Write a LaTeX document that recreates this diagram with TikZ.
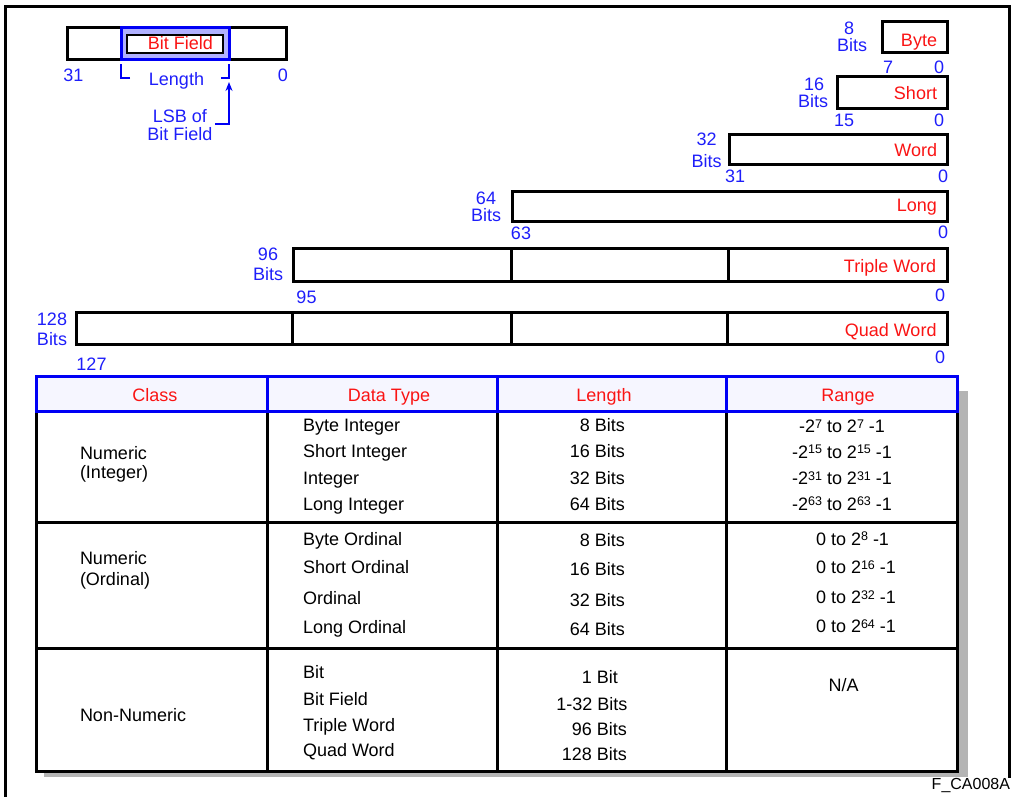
\documentclass[tikz,border=0pt]{standalone}
\usepackage{fontspec}
\setmainfont{Liberation Sans}
\usetikzlibrary{arrows.meta}
\definecolor{tblue}{RGB}{30,30,250}
\definecolor{lblue}{RGB}{0,0,245}
\definecolor{tred}{RGB}{250,20,20}
\definecolor{hfill}{RGB}{176,176,255}
\definecolor{hdrfill}{RGB}{246,246,255}
\definecolor{shadowgray}{RGB}{180,180,180}
\newcommand{\sups}[1]{\raisebox{4.5pt}{\fontsize{12.5}{12.5}\selectfont #1}}
\begin{document}
\begin{tikzpicture}[x=1pt,y=-1pt,
  every node/.style={inner sep=0pt, outer sep=0pt},
  lb/.style={text=tblue, font=\fontsize{18}{18}\selectfont},
  rd/.style={text=tred, font=\fontsize{18}{18}\selectfont},
  tx/.style={text=black, font=\fontsize{18}{18}\selectfont},
  regbox/.style={draw=black, line width=3pt, fill=white},
  bline/.style={draw=black, line width=3pt},
  hline/.style={draw=lblue, line width=3pt},
  brk/.style={draw=lblue, line width=2pt},
  lsbarrow/.style={draw=lblue, line width=2pt, -{Stealth[length=9pt,width=7pt]}}
]
\useasboundingbox (0,0) rectangle (1011,797);
% outer frame
\draw[bline] (5,797) -- (5,7) -- (1009,7) -- (1009,778);

% ---------- Bit field ----------
\draw[regbox] (67,28) rectangle (286,60);
\draw[draw=lblue, line width=3pt, fill=hfill] (121,28) rectangle (229,60);
\draw[draw=black, line width=2pt, fill=white] (127,35) rectangle (223,53);
\node[rd, anchor=base east] (bftxt) at (213,50) {Bit Field};
\node[lb, anchor=base] (bf31) at (73.5,81.5) {31};
\node[lb, anchor=base] (bf0) at (283,81.5) {0};
\node[lb, anchor=base] (bflen) at (176.5,86) {Length};
\draw[brk] (130,78) -- (121,78) -- (121,64);
\draw[brk] (221,78) -- (229,78) -- (229,64);
\node[lb, anchor=base] (lsb1) at (180,122.5) {LSB of};
\node[lb, anchor=base] (lsb2) at (180,140) {Bit Field};
\coordinate (arrstart) at (215,124);
\coordinate (arrcorner) at (229,124);
\coordinate (arrtip) at (229,82);
\draw[lsbarrow] (arrstart) -- (arrcorner) -- (arrtip);

% ---------- Byte ----------
\draw[regbox] (882,22) rectangle (947,53);
\node[lb, anchor=base] (b8a) at (849,34.5) {8};
\node[lb, anchor=base] (b8b) at (852,51.5) {Bits};
\node[rd, anchor=base east] (bytetxt) at (937,46.5) {Byte};
\node[lb, anchor=base] (b7) at (888,74) {7};
\node[lb, anchor=base] (b0) at (939,74) {0};

% ---------- Short ----------
\draw[regbox] (837,77) rectangle (947,109);
\node[lb, anchor=base] (s16a) at (814,90.5) {16};
\node[lb, anchor=base] (s16b) at (813,108) {Bits};
\node[rd, anchor=base east] (shorttxt) at (937,100) {Short};
\node[lb, anchor=base] (s15) at (844,126.5) {15};
\node[lb, anchor=base] (s0) at (939,126.5) {0};

% ---------- Word ----------
\draw[regbox] (729,134) rectangle (947,164);
\node[lb, anchor=base] (w32a) at (706.5,145) {32};
\node[lb, anchor=base] (w32b) at (706.5,167) {Bits};
\node[rd, anchor=base east] (wordtxt) at (937,156.5) {Word};
\node[lb, anchor=base] (w31) at (735,182) {31};
\node[lb, anchor=base] (w0) at (943,182) {0};

% ---------- Long ----------
\draw[regbox] (512,191) rectangle (947,221);
\node[lb, anchor=base] (l64a) at (486,204) {64};
\node[lb, anchor=base] (l64b) at (486,221.5) {Bits};
\node[rd, anchor=base east] (longtxt) at (937,211.5) {Long};
\node[lb, anchor=base] (l63) at (521,239) {63};
\node[lb, anchor=base] (l0) at (943,238.5) {0};

% ---------- Triple Word ----------
\draw[regbox] (293,248) rectangle (947,281);
\draw[bline] (511,248) -- (511,281);
\draw[bline] (728,248) -- (728,281);
\node[lb, anchor=base] (t96a) at (268,260.5) {96};
\node[lb, anchor=base] (t96b) at (268,280.5) {Bits};
\node[rd, anchor=base east] (tripletxt) at (936,272.5) {Triple Word};
\node[lb, anchor=base] (t95) at (306.5,303) {95};
\node[lb, anchor=base] (t0) at (940,301.5) {0};

% ---------- Quad Word ----------
\draw[regbox] (76,312) rectangle (947,344);
\draw[bline] (292,312) -- (292,344);
\draw[bline] (511,312) -- (511,344);
\draw[bline] (727,312) -- (727,344);
\node[lb, anchor=base] (q128a) at (52,325) {128};
\node[lb, anchor=base] (q128b) at (52,345) {Bits};
\node[rd, anchor=base east] (quadtxt) at (936.5,336) {Quad Word};
\node[lb, anchor=base] (q127) at (91.5,370) {127};
\node[lb, anchor=base] (q0) at (940,363) {0};

% ---------- Table ----------
\fill[shadowgray] (958,391) rectangle (968,777);
\fill[shadowgray] (44,771) rectangle (968,777);
\draw[bline, fill=white] (36,411) rectangle (957,771);
\draw[bline] (36,522) -- (957,522);
\draw[bline] (36,648) -- (957,648);
\draw[bline] (267,411) -- (267,771);
\draw[bline] (497,411) -- (497,771);
\draw[bline] (726,411) -- (726,771);
\draw[hline, fill=hdrfill] (36,376) rectangle (957,411);
\draw[hline] (267,376) -- (267,411);
\draw[hline] (497,376) -- (497,411);
\draw[hline] (726,376) -- (726,411);
\node[rd, anchor=base] (hclass) at (155,401) {Class};
\node[rd, anchor=base] (htype) at (389,401) {Data Type};
\node[rd, anchor=base] (hlen) at (604,401) {Length};
\node[rd, anchor=base] (hrange) at (848,401) {Range};

% Integer rows
\node[tx, anchor=base west] (cint1) at (80,459) {Numeric};
\node[tx, anchor=base west] (cint2) at (80,478) {(Integer)};
\node[tx, anchor=base west] (dt1) at (303,431.5) {Byte Integer};
\node[tx, anchor=base west] (dt2) at (303,457.5) {Short Integer};
\node[tx, anchor=base west] (dt3) at (303,484.5) {Integer};
\node[tx, anchor=base west] (dt4) at (303,510) {Long Integer};
\node[tx, anchor=base east] (ln1) at (625,431.5) {8 Bits};
\node[tx, anchor=base east] (ln2) at (625,457.5) {16 Bits};
\node[tx, anchor=base east] (ln3) at (625,484.5) {32 Bits};
\node[tx, anchor=base east] (ln4) at (625,510) {64 Bits};
\node[tx, anchor=base] (rg1) at (842,432.5) {-2\sups{7} to 2\sups{7} -1};
\node[tx, anchor=base] (rg2) at (842,458) {-2\sups{15} to 2\sups{15} -1};
\node[tx, anchor=base] (rg3) at (842,484.5) {-2\sups{31} to 2\sups{31} -1};
\node[tx, anchor=base] (rg4) at (842,510) {-2\sups{63} to 2\sups{63} -1};

% Ordinal rows
\node[tx, anchor=base west] (cord1) at (80,564) {Numeric};
\node[tx, anchor=base west] (cord2) at (80,585.5) {(Ordinal)};
\node[tx, anchor=base west] (do1) at (303,545) {Byte Ordinal};
\node[tx, anchor=base west] (do2) at (303,573.5) {Short Ordinal};
\node[tx, anchor=base west] (do3) at (303,604.5) {Ordinal};
\node[tx, anchor=base west] (do4) at (303,633.5) {Long Ordinal};
\node[tx, anchor=base east] (lo1) at (625,546.5) {8 Bits};
\node[tx, anchor=base east] (lo2) at (625,575) {16 Bits};
\node[tx, anchor=base east] (lo3) at (625,606) {32 Bits};
\node[tx, anchor=base east] (lo4) at (625,635) {64 Bits};
\node[tx, anchor=base west] (ro1) at (816,545) {0 to 2\sups{8} -1};
\node[tx, anchor=base west] (ro2) at (816,573.5) {0 to 2\sups{16} -1};
\node[tx, anchor=base west] (ro3) at (816,603.5) {0 to 2\sups{32} -1};
\node[tx, anchor=base west] (ro4) at (816,632.5) {0 to 2\sups{64} -1};

% Non-numeric rows
\node[tx, anchor=base west] (cnn) at (80,721) {Non-Numeric};
\node[tx, anchor=base west] (dn1) at (303,678) {Bit};
\node[tx, anchor=base west] (dn2) at (303,705) {Bit Field};
\node[tx, anchor=base west] (dn3) at (303,731.5) {Triple Word};
\node[tx, anchor=base west] (dn4) at (303,756.5) {Quad Word};
\node[tx, anchor=base east] (lnn1) at (618,683) {1 Bit};
\node[tx, anchor=base east] (lnn2) at (627.5,710.5) {1-32 Bits};
\node[tx, anchor=base east] (lnn3) at (627,735) {96 Bits};
\node[tx, anchor=base east] (lnn4) at (627,760.5) {128 Bits};
\node[tx, anchor=base] (rnn) at (843.5,691.5) {N/A};

% footer
\node[tx, anchor=base east, font=\fontsize{16}{16}\selectfont] (fig) at (1010,789) {F\_CA008A};
\end{tikzpicture}
\end{document}
